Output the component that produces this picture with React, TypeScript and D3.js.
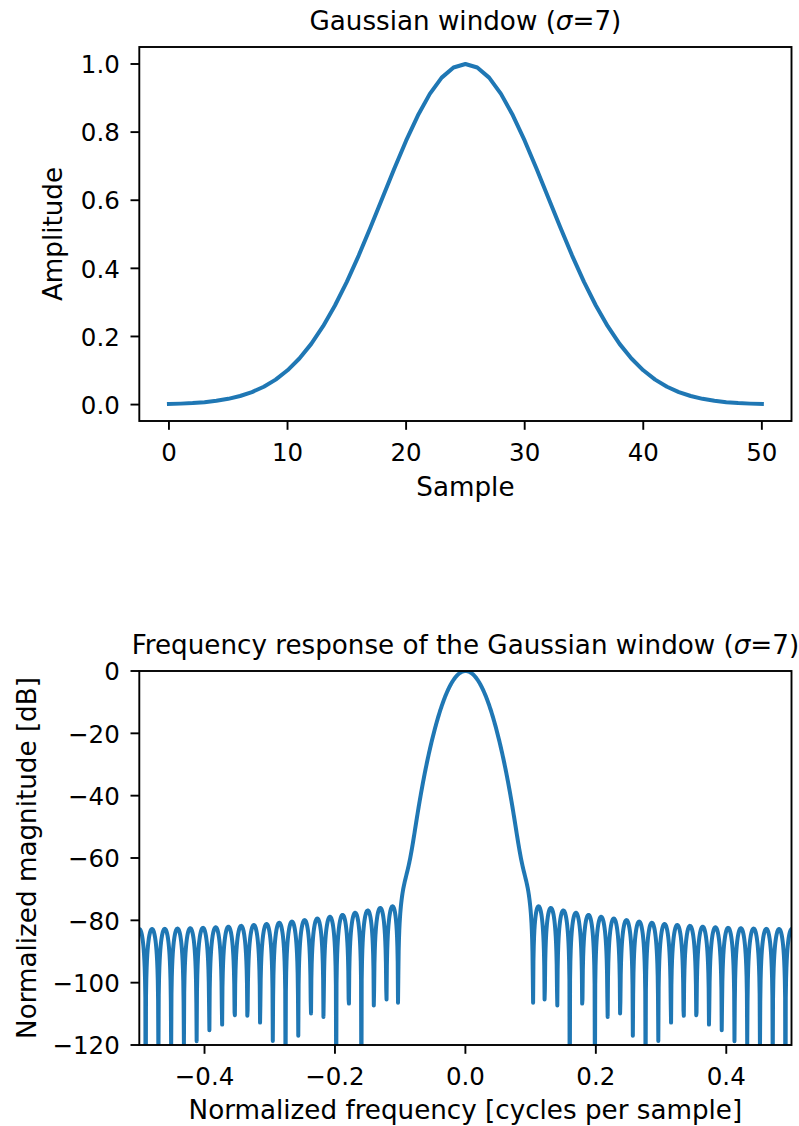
import React from "react";
import * as d3 from "d3";

// Gaussian window (M = 51, sigma = 7) sample values
const windowValues: number[] = [
  0.001699, 0.002802, 0.004526, 0.007163, 0.011109, 0.01688, 0.02513, 0.036658,
  0.052393, 0.07337, 0.100669, 0.135335, 0.178264, 0.230066, 0.290924, 0.360448,
  0.437565, 0.52045, 0.606531, 0.692569, 0.774837, 0.849366, 0.912254, 0.960005,
  0.989848, 1.0, 0.989848, 0.960005, 0.912254, 0.849366, 0.774837, 0.692569,
  0.606531, 0.52045, 0.437565, 0.360448, 0.290924, 0.230066, 0.178264, 0.135335,
  0.100669, 0.07337, 0.052393, 0.036658, 0.02513, 0.01688, 0.011109, 0.007163,
  0.004526, 0.002802, 0.001699,
];

const topXTicks = [0, 10, 20, 30, 40, 50];
const topYTicks = [0.0, 0.2, 0.4, 0.6, 0.8, 1.0];
const botXTicks = [-0.4, -0.2, 0.0, 0.2, 0.4];
const botYTicks = [0, -20, -40, -60, -80, -100, -120];
const FFT_SIZE = 2048;

// Frequency response of the window data (zero padded DFT, shifted, in dB)
function responseOf(w: number[], n: number): [number, number][] {
  const mag = new Float64Array(n);
  for (let k = 0; k < n; k++) {
    let re = 0,
      im = 0;
    for (let j = 0; j < w.length; j++) {
      const a = (-2 * Math.PI * k * j) / n;
      re += w[j] * Math.cos(a);
      im += w[j] * Math.sin(a);
    }
    mag[k] = Math.hypot(re, im);
  }
  let mx = 0;
  for (let k = 0; k < n; k++) mx = Math.max(mx, mag[k]);
  const out: [number, number][] = [];
  for (let i = 0; i < n; i++) {
    const v = mag[(i + n / 2) % n] / mx;
    const db = v > 0 ? 20 * Math.log10(v) : -400;
    out.push([-0.5 + i / (n - 1), Math.max(db, -400)]);
  }
  return out;
}

const FONT = "DejaVu Sans, Liberation Sans, sans-serif";
const BLUE = "#1f77b4";
const TICK_FS = 24.5;
const LABEL_FS = 26.2;

const L = 139.3;
const R = 791.5;
const T1 = 47;
const B1 = 421;
const T2 = 671;
const B2 = 1045;
const CX = (L + R) / 2;

export default function App() {
  const response = React.useMemo(() => responseOf(windowValues, FFT_SIZE), []);

  const x1 = d3.scaleLinear().domain([-2.5, 52.5]).range([L, R]);
  const y1 = d3.scaleLinear().domain([-0.048215, 1.049915]).range([B1, T1]);
  const x2 = d3.scaleLinear().domain([-0.5, 0.5]).range([L, R]);
  const y2 = d3.scaleLinear().domain([-120, 0]).range([B2, T2]);

  const line1 = d3
    .line<number>()
    .x((_, i) => x1(i))
    .y((d) => y1(d))(windowValues) as string;
  const line2 = d3
    .line<[number, number]>()
    .x((d) => x2(d[0]))
    .y((d) => y2(d[1]))(response) as string;

  const fmt1 = (v: number) => v.toFixed(1);
  const fmtSigned = (v: number, digits: number) =>
    (v < 0 ? "\u2212" : "") + Math.abs(v).toFixed(digits);

  const xTicks = (
    scale: d3.ScaleLinear<number, number>,
    ticks: number[],
    yb: number,
    fmt: (v: number) => string
  ) =>
    ticks.map((t) => (
      <g key={"x" + t}>
        <line x1={scale(t)} x2={scale(t)} y1={yb} y2={yb + 8.8} stroke="#000" strokeWidth={1.9} />
        <text x={scale(t)} y={yb + 39.5} textAnchor="middle" fontSize={TICK_FS} fontFamily={FONT}>
          {fmt(t)}
        </text>
      </g>
    ));

  const yTicks = (
    scale: d3.ScaleLinear<number, number>,
    ticks: number[],
    fmt: (v: number) => string
  ) =>
    ticks.map((t) => (
      <g key={"y" + t}>
        <line x1={L - 8.8} x2={L} y1={scale(t)} y2={scale(t)} stroke="#000" strokeWidth={1.9} />
        <text x={L - 19.5} y={scale(t) + 9.2} textAnchor="end" fontSize={TICK_FS} fontFamily={FONT}>
          {fmt(t)}
        </text>
      </g>
    ));

  return (
    <svg width={799} height={1126} style={{ position: "absolute", left: 0, top: 0, background: "#fff" }}>
      <defs>
        <clipPath id="clip1">
          <rect x={L} y={T1} width={R - L} height={B1 - T1} />
        </clipPath>
        <clipPath id="clip2">
          <rect x={L} y={T2} width={R - L} height={B2 - T2} />
        </clipPath>
      </defs>
      <rect x={0} y={0} width={799} height={1126} fill="#fff" />

      {/* Top: window */}
      <path
        d={line1}
        fill="none"
        stroke={BLUE}
        strokeWidth={4}
        strokeLinejoin="round"
        strokeLinecap="square"
        clipPath="url(#clip1)"
      />
      <rect x={L} y={T1} width={R - L} height={B1 - T1} fill="none" stroke="#000" strokeWidth={1.9} />
      {xTicks(x1, topXTicks, B1, (v) => String(v))}
      {yTicks(y1, topYTicks, fmt1)}
      <text x={CX} y={T1 - 17.5} textAnchor="middle" fontSize={LABEL_FS} fontFamily={FONT}>
        Gaussian window (<tspan fontStyle="italic">σ</tspan>=7)
      </text>
      <text x={CX} y={B1 + 75} textAnchor="middle" fontSize={LABEL_FS} fontFamily={FONT}>
        Sample
      </text>
      <text
        transform={`translate(62,${(T1 + B1) / 2}) rotate(-90)`}
        textAnchor="middle"
        fontSize={LABEL_FS}
        fontFamily={FONT}
      >
        Amplitude
      </text>

      {/* Bottom: frequency response */}
      <path
        d={line2}
        fill="none"
        stroke={BLUE}
        strokeWidth={4}
        strokeLinejoin="round"
        strokeLinecap="square"
        clipPath="url(#clip2)"
      />
      <rect x={L} y={T2} width={R - L} height={B2 - T2} fill="none" stroke="#000" strokeWidth={1.9} />
      {xTicks(x2, botXTicks, B2, (v) => fmtSigned(v, 1))}
      {yTicks(y2, botYTicks, (v) => fmtSigned(v, 0))}
      <text x={CX} y={T2 - 17.5} textAnchor="middle" fontSize={LABEL_FS} fontFamily={FONT}>
        Frequency response of the Gaussian window (<tspan fontStyle="italic">σ</tspan>=7)
      </text>
      <text x={CX} y={B2 + 74} textAnchor="middle" fontSize={LABEL_FS} fontFamily={FONT}>
        Normalized frequency [cycles per sample]
      </text>
      <text
        transform={`translate(36,${(T2 + B2) / 2}) rotate(-90)`}
        textAnchor="middle"
        fontSize={LABEL_FS}
        fontFamily={FONT}
      >
        Normalized magnitude [dB]
      </text>
    </svg>
  );
}
